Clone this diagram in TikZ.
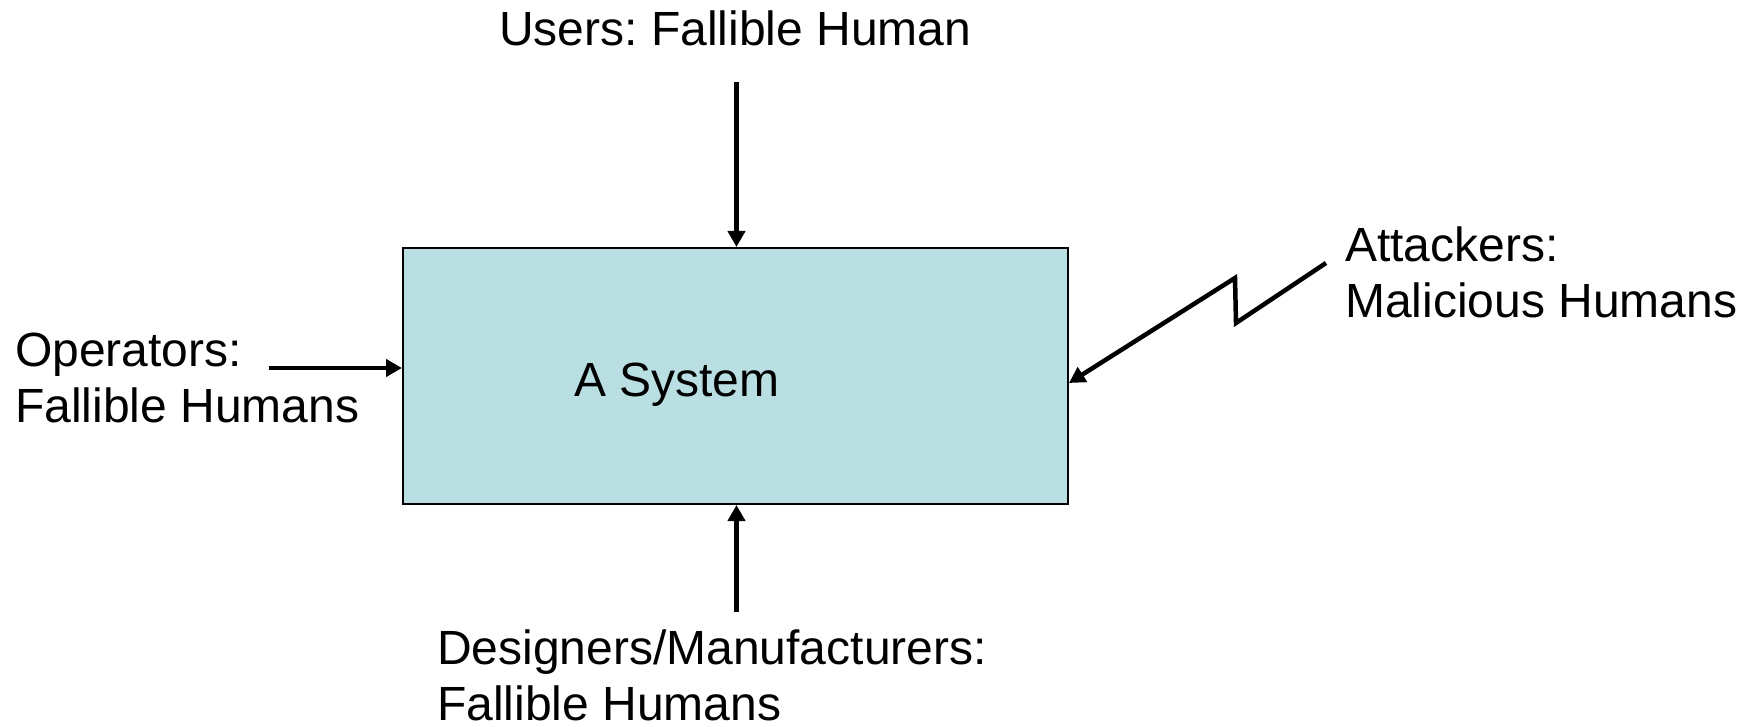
\documentclass[tikz,border=0pt]{standalone}
\usepackage{fontspec}
\setmainfont{Liberation Sans}
\usetikzlibrary{arrows.meta,calc}
\definecolor{boxfill}{RGB}{185,223,227}
\frenchspacing
\begin{document}
\begin{tikzpicture}[x=1pt,y=-1pt,
  lbl/.style={inner sep=0pt,align=left,font=\frenchspacing\fontsize{48}{56}\selectfont},
  arr/.style={line width=4.5pt,-{Triangle[length=16pt,width=17pt]}},
  sysbox/.style={draw=black,line width=2pt,fill=boxfill,minimum width=665pt,minimum height=256pt,inner sep=0pt}]
\useasboundingbox (0,0) rectangle (1758,727);
\node[sysbox] (sys) at (735.5,376) {};
\node[lbl,anchor=base west] (sysl) at (574,396) {A System};
\node[lbl,anchor=base west] (users) at (499,46) {Users: Fallible Human};
\node[lbl,anchor=north west] (ops) at (15,333) {Operators:\\Fallible Humans};
\node[lbl,anchor=north west] (att) at (1345,227) {Attackers:\\Malicious Humans};
\node[lbl,anchor=north west] (des) at (437,630) {Designers/Manufacturers:\\Fallible Humans};
\coordinate (u) at (736.5,82);
\coordinate (d) at (736.5,612);
\coordinate (o) at (269,368);
\coordinate (a0) at (1326,263);
\coordinate (a1) at (1236,323);
\coordinate (a2) at (1235,278);
\coordinate (a3) at (1069,383);
\draw[arr] (u) -- (u |- sys.north);
\draw[arr] (d) -- (d |- sys.south);
\draw[arr] (o) -- (o -| sys.west);
\draw[arr,line join=miter] (a0) -- (a1) -- (a2) -- (a3 -| sys.east);
\end{tikzpicture}
\end{document}
